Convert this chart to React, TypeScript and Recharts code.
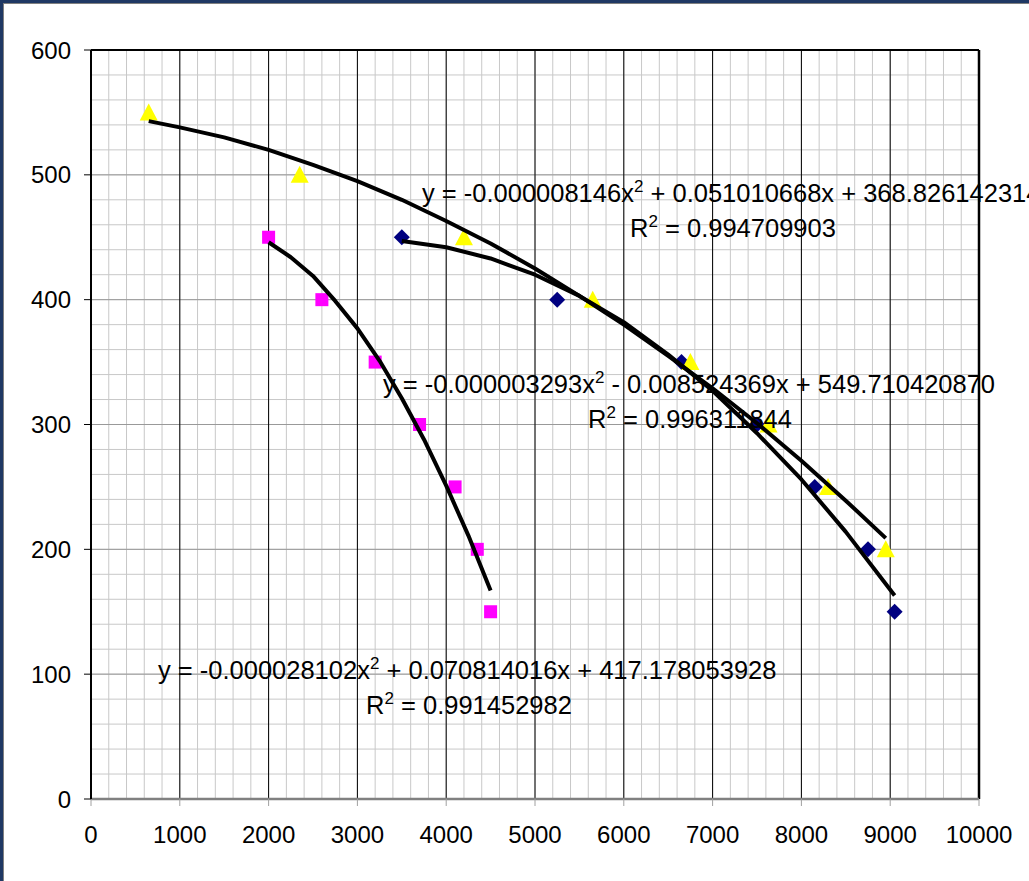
import React from 'react';
import {
  ScatterChart,
  Scatter,
  XAxis,
  YAxis,
  CartesianGrid,
  ReferenceLine,
  ReferenceDot,
} from 'recharts';

// measured points
const yellowX = [650, 2350, 4200, 5650, 6750, 7630, 8300, 8950];
const yellowY = [550, 500, 450, 400, 350, 300, 250, 200];
const navyX = [3500, 5250, 6650, 7500, 8150, 8750, 9050];
const navyY = [450, 400, 350, 300, 250, 200, 150];
const magentaX = [2000, 2600, 3200, 3700, 4100, 4350, 4500];
const magentaY = [450, 400, 350, 300, 250, 200, 150];

// trendlines
const yellowFitX = [650, 1000, 1500, 2000, 2500, 3000, 3500, 4000, 4500, 5000, 5500, 6000, 6500, 7000, 7500, 8000, 8500, 8950];
const yellowFitY = [543, 538, 530, 520, 508, 495, 480, 463, 445, 425, 403, 380, 355, 329, 301, 271, 239, 209];
const navyFitX = [3500, 4000, 4500, 5000, 5500, 6000, 6500, 7000, 7500, 8000, 8500, 9050];
const navyFitY = [447, 442, 433, 420, 403, 382, 356, 327, 293, 256, 214, 163];
const magentaFitX = [2000, 2250, 2500, 2750, 3000, 3250, 3500, 3750, 4000, 4250, 4500];
const magentaFitY = [446, 434, 419, 399, 377, 351, 321, 288, 251, 211, 167];

const xTicks = [0, 1000, 2000, 3000, 4000, 5000, 6000, 7000, 8000, 9000, 10000];
const yTicks = [0, 100, 200, 300, 400, 500, 600];

// equation labels: [x, y, before superscript, after superscript]
const labels: [number, number, string, string][] = [
  [3727, 485, 'y = -0.000008146x', ' + 0.051010668x + 368.826142314'],
  [6070, 457, 'R', ' = 0.994709903'],
  [3288, 332, 'y = -0.000003293x', ' - 0.008524369x + 549.710420870'],
  [5597, 304, 'R', ' = 0.996311844'],
  [754, 103, 'y = -0.000028102x', ' + 0.070814016x + 417.178053928'],
  [3097, 75, 'R', ' = 0.991452982'],
];

const zip = (xs: number[], ys: number[]) => xs.map((x, i) => ({ x, y: ys[i] }));

const minorX = Array.from({ length: 51 }, (_, i) => i * 200);
const minorY = Array.from({ length: 31 }, (_, i) => i * 20);
const majorX = xTicks.slice(1, -1);
const majorY = yTicks.slice(1, -1);

const FONT = 'Arial, "Liberation Sans", sans-serif';

const Triangle = (p: any) => (
  <polygon
    points={`${p.cx},${p.cy - 9} ${p.cx + 9},${p.cy + 8} ${p.cx - 9},${p.cy + 8}`}
    fill="#FFFF00"
  />
);
const Diamond = (p: any) => (
  <polygon
    points={`${p.cx},${p.cy - 8} ${p.cx + 8},${p.cy} ${p.cx},${p.cy + 8} ${p.cx - 8},${p.cy}`}
    fill="#000080"
  />
);
const Square = (p: any) => (
  <rect x={p.cx - 6.5} y={p.cy - 6.5} width={13} height={13} fill="#FF00FF" />
);
const NoDot = () => <g />;

const eqLabel = (before: string, after: string) => (props: any) => {
  const vb = props.viewBox;
  const x = vb.x + vb.width / 2;
  const y = vb.y + vb.height / 2;
  return (
    <text x={x} y={y} dy="0.35em" fill="#000" fontSize={25.5} fontFamily={FONT}>
      <tspan>{before}</tspan>
      <tspan fontSize={17} dy={-10}>2</tspan>
      <tspan dy={10}>{after}</tspan>
    </text>
  );
};

const fitLine = { stroke: '#000', strokeWidth: 4, strokeLinejoin: 'round' as const };

export default function App() {
  return (
    <div style={{ position: 'relative', width: 1029, height: 881, overflow: 'hidden', background: '#fff' }}>
      <style>{'body{margin:0}'}</style>
      <ScatterChart width={1029} height={881} margin={{ top: 50, right: 50, bottom: 42, left: 0 }}>
        <CartesianGrid stroke="#c8c8c8" verticalValues={minorX} horizontalValues={minorY} />
        <CartesianGrid stroke="#999" vertical={false} horizontalValues={majorY} />
        <CartesianGrid stroke="#000" horizontal={false} verticalValues={majorX} />
        <XAxis
          type="number"
          dataKey="x"
          domain={[0, 10000]}
          ticks={xTicks}
          interval={0}
          height={40}
          tickSize={7}
          tickMargin={20}
          axisLine={{ stroke: '#808080', strokeWidth: 2.5 }}
          tickLine={{ stroke: '#a0a0a0' }}
          tick={{ fill: '#000', fontSize: 24, fontFamily: FONT }}
        />
        <YAxis
          type="number"
          dataKey="y"
          domain={[0, 600]}
          ticks={yTicks}
          interval={0}
          width={91}
          tickSize={7}
          tickMargin={13}
          axisLine={{ stroke: '#000', strokeWidth: 2 }}
          tickLine={{ stroke: '#000' }}
          tick={{ fill: '#000', fontSize: 24, fontFamily: FONT }}
        />
        <ReferenceLine y={600} stroke="#000" strokeWidth={2} />
        <ReferenceLine x={10000} stroke="#000" strokeWidth={2.5} />
        <Scatter data={zip(navyX, navyY)} shape={Diamond} isAnimationActive={false} />
        <Scatter data={zip(magentaX, magentaY)} shape={Square} isAnimationActive={false} />
        <Scatter data={zip(yellowX, yellowY)} shape={Triangle} isAnimationActive={false} />
        <Scatter data={zip(yellowFitX, yellowFitY)} shape={NoDot} line={fitLine} isAnimationActive={false} />
        <Scatter data={zip(navyFitX, navyFitY)} shape={NoDot} line={fitLine} isAnimationActive={false} />
        <Scatter data={zip(magentaFitX, magentaFitY)} shape={NoDot} line={fitLine} isAnimationActive={false} />
        {labels.map(([x, y, before, after], i) => (
          <ReferenceDot
            key={i}
            x={x}
            y={y}
            r={0}
            fill="none"
            stroke="none"
            label={eqLabel(before, after)}
          />
        ))}
      </ScatterChart>
      <div style={{ position: 'absolute', left: 0, top: 0, width: 1029, height: 3, background: '#1f3864' }} />
      <div style={{ position: 'absolute', left: 0, top: 0, width: 3, height: 881, background: '#1f3864' }} />
      <div style={{ position: 'absolute', left: 3, top: 3, width: 1026, height: 1, background: '#808080' }} />
      <div style={{ position: 'absolute', left: 3, top: 3, width: 1, height: 878, background: '#808080' }} />
    </div>
  );
}
